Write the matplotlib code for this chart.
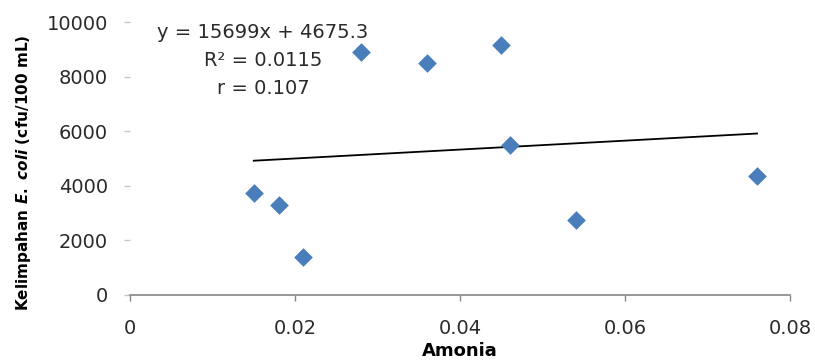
import numpy as np
import matplotlib
matplotlib.use("Agg")
import matplotlib.pyplot as plt

plt.rcParams['font.family'] = ['DejaVu Sans']
plt.rcParams['mathtext.fontset'] = 'custom'
plt.rcParams['mathtext.it'] = 'DejaVu Sans:italic:bold'
plt.rcParams['mathtext.rm'] = 'DejaVu Sans:bold'

# Data
amonia = [0.015, 0.018, 0.021, 0.028, 0.036, 0.045, 0.046, 0.054, 0.076]
ecoli = [3750, 3300, 1400, 8900, 8500, 9150, 5500, 2750, 4350]
x_ticks = [0, 0.02, 0.04, 0.06, 0.08]
x_ticklabels = ["0", "0.02", "0.04", "0.06", "0.08"]
y_ticks = [0, 2000, 4000, 6000, 8000, 10000]
y_ticklabels = ["0", "2000", "4000", "6000", "8000", "10000"]
eq_lines = ["y = 15699x + 4675.3", "R\u00b2 = 0.0115", "r = 0.107"]

W, H = 815, 364
fig = plt.figure(figsize=(W / 100, H / 100), dpi=100)
ax = fig.add_axes([130 / W, (H - 295) / H, (790 - 130) / W, (295 - 22) / H])

ax.scatter(amonia, ecoli, marker='D', s=9.5 ** 2, color='#4A7EBB', zorder=3, linewidths=0)

# Linear trendline
xs = np.array(amonia)
slope, intercept = np.polyfit(xs, np.array(ecoli), 1)
xl = np.array([xs.min(), xs.max()])
ax.plot(xl, slope * xl + intercept, color='black', lw=1.3, zorder=2)

ax.set_xlim(0, 0.08)
ax.set_ylim(0, 10000)
ax.set_xticks(x_ticks)
ax.set_xticklabels(x_ticklabels)
ax.set_yticks(y_ticks)
ax.set_yticklabels(y_ticklabels)

for s in ['top', 'right', 'left']:
    ax.spines[s].set_visible(False)
ax.spines['bottom'].set_color('#868686')
ax.spines['bottom'].set_linewidth(1.2)

ax.tick_params(axis='x', direction='out', length=4, width=1, color='#868686',
               pad=13, labelsize=14, labelcolor='#2a2a2a')
ax.tick_params(axis='y', direction='out', length=4, width=1, color='#c8c8c8',
               pad=12, labelsize=14, labelcolor='#2a2a2a')

ax.set_xlabel('Amonia', fontsize=13, fontweight='bold', labelpad=3)
fig.text(24 / W, 1 - 173 / H, r'Kelimpahan $\it{E.\ coli}$ (cfu/100 mL)',
         rotation=90, ha='center', va='center', fontsize=11, fontweight='bold')

for i, line in enumerate(eq_lines):
    fig.text(263 / W, 1 - (32 + 28 * i) / H, line, ha='center', va='center',
             fontsize=14, color='#2a2a2a')

fig.savefig('out.png', dpi=100)
